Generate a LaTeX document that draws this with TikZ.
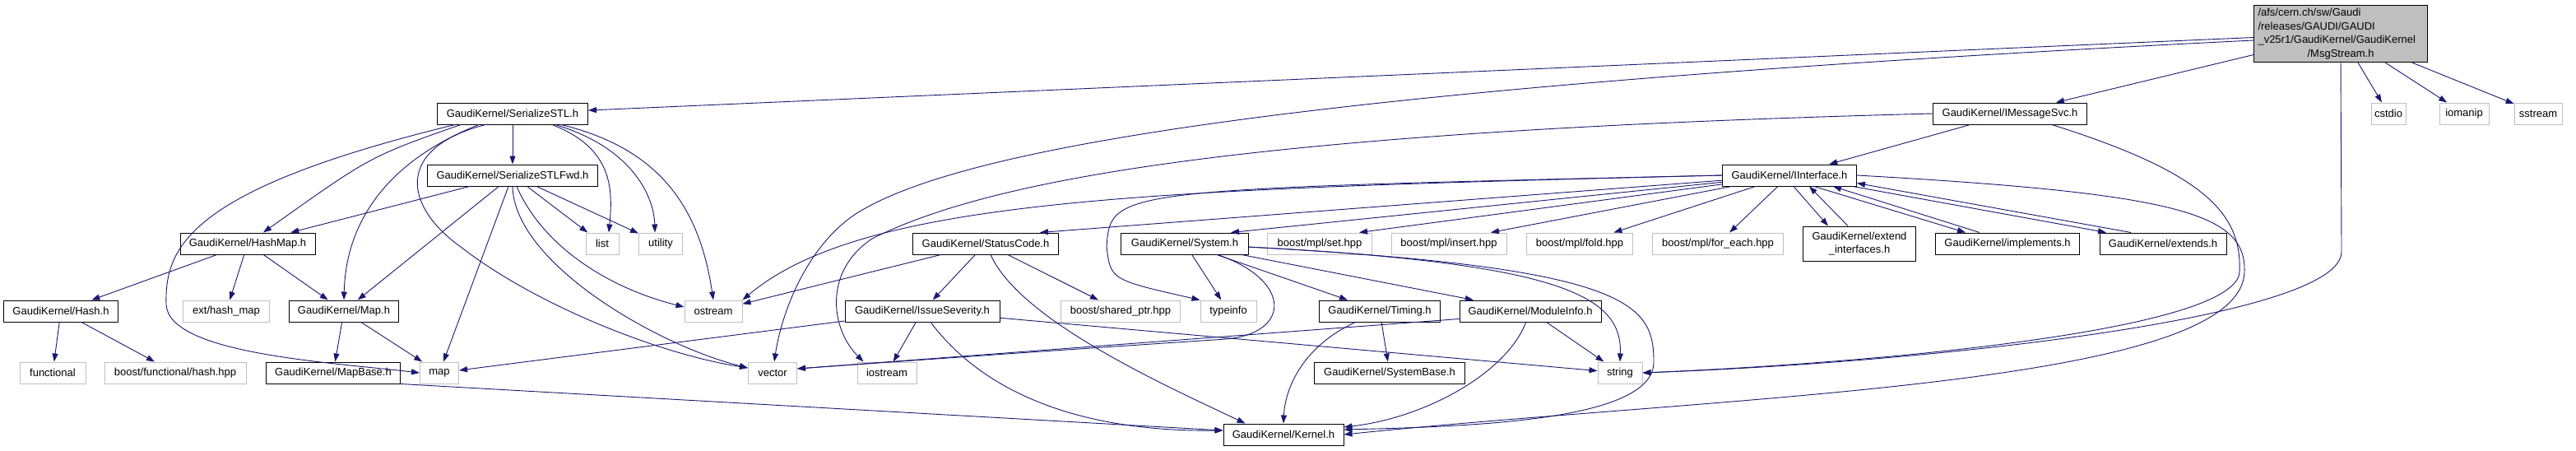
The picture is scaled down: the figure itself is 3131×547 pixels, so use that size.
\documentclass[tikz,border=0pt]{standalone}
\usepackage{fontspec}
\setmainfont{Liberation Sans}
\usetikzlibrary{arrows.meta}
\definecolor{edgeblue}{HTML}{191970}
\definecolor{extgray}{HTML}{BFBFBF}

\begin{document}
\begin{tikzpicture}[x=1pt,y=-1pt,
  every node/.style={font=\fontsize{13}{16.5}\selectfont, inner sep=0pt, minimum height=26pt},
  doc/.style={draw=black, line width=1pt, fill=white},
  sys/.style={draw=extgray, line width=1pt, fill=white},
  topfile/.style={draw=black, line width=1pt, fill=extgray},
  inc/.style={draw=edgeblue, line width=0.9pt, -{Triangle[length=10pt,width=7pt]}}]
\useasboundingbox (0,0) rectangle (3131,547);

% files
\node[topfile, text width=201pt, inner xsep=5pt, minimum height=69pt, align=left] (root) at (2845,41)
  {/afs/cern.ch/sw/Gaudi\\/releases/GAUDI/GAUDI\\\_v25r1/GaudiKernel/GaudiKernel\\\makebox[\linewidth]{/MsgStream.h}};
\node[sys, minimum width=42pt] (cstdio) at (2903,138) {cstdio};
\node[sys, minimum width=60pt] (iomanip) at (2995,138) {iomanip};
\node[sys, minimum width=58pt] (sstream) at (3085,138) {sstream};
\node[doc, minimum width=187pt] (imsg) at (2443,138) {GaudiKernel/IMessageSvc.h};
\node[doc, minimum width=183pt] (sstl) at (623,138) {GaudiKernel/SerializeSTL.h};
\node[doc, minimum width=207pt] (fwd) at (623,213) {GaudiKernel/SerializeSTLFwd.h};
\node[doc, minimum width=163pt] (iinterface) at (2175,213) {GaudiKernel/IInterface.h};
\node[doc, minimum width=164pt] (hashmap) at (301,296) {GaudiKernel/HashMap.h};
\node[sys, minimum width=40pt] (list) at (732,296) {list};
\node[sys, minimum width=53pt] (utility) at (803,296) {utility};
\node[doc, minimum width=177pt] (statuscode) at (1198,296) {GaudiKernel/StatusCode.h};
\node[doc, minimum width=155pt] (system) at (1440,296) {GaudiKernel/System.h};
\node[sys, minimum width=127pt] (mplset) at (1604,296) {boost/mpl/set.hpp};
\node[sys, minimum width=140pt] (mplinsert) at (1761,296) {boost/mpl/insert.hpp};
\node[sys, minimum width=129pt] (mplfold) at (1920,296) {boost/mpl/fold.hpp};
\node[sys, minimum width=159pt] (mplforeach) at (2088,296) {boost/mpl/for\_each.hpp};
\node[doc, minimum width=137pt, minimum height=42pt, align=center] (extendif) at (2260,296) {GaudiKernel/extend\\\_interfaces.h};
\node[doc, minimum width=175pt] (implements) at (2440,296) {GaudiKernel/implements.h};
\node[doc, minimum width=154pt] (extends) at (2629,296) {GaudiKernel/extends.h};
\node[doc, minimum width=139pt] (hash) at (74,378) {GaudiKernel/Hash.h};
\node[sys, minimum width=105pt] (exthash) at (275,378) {ext/hash\_map};
\node[doc, minimum width=133pt] (maph) at (418,378) {GaudiKernel/Map.h};
\node[sys, minimum width=70pt] (ostream) at (867,378) {ostream};
\node[doc, minimum width=188pt] (issue) at (1121,378) {GaudiKernel/IssueSeverity.h};
\node[sys, minimum width=145pt] (sharedptr) at (1362,378) {boost/shared\_ptr.hpp};
\node[sys, minimum width=68pt] (typeinfo) at (1493,378) {typeinfo};
\node[doc, minimum width=147pt] (timing) at (1677,378) {GaudiKernel/Timing.h};
\node[doc, minimum width=172pt] (moduleinfo) at (1860,378) {GaudiKernel/ModuleInfo.h};
\node[sys, minimum width=80pt] (functional) at (64,453) {functional};
\node[sys, minimum width=172pt] (bfhash) at (213,453) {boost/functional/hash.hpp};
\node[doc, minimum width=163pt] (mapbase) at (405,453) {GaudiKernel/MapBase.h};
\node[sys, minimum width=47pt] (map) at (534,453) {map};
\node[sys, minimum width=59pt] (vector) at (939,453) {vector};
\node[sys, minimum width=72pt] (iostream) at (1078,453) {iostream};
\node[doc, minimum width=183pt] (systembase) at (1689,453) {GaudiKernel/SystemBase.h};
\node[sys, minimum width=54pt] (string) at (1969,453) {string};
\node[doc, minimum width=146pt] (kernel) at (1560,528) {GaudiKernel/Kernel.h};

% MsgStream.h
\draw[inc] (root) -- (sstl);
\draw[inc] (root) -- (imsg);
\draw[inc] ([yshift=-8pt]root.west) .. controls (1500,110) and (1150,190) .. (1040,260) .. controls (980,300) and (950,380) .. (vector);
\draw[inc] (root) -- (cstdio);
\draw[inc] (root) -- (iomanip);
\draw[inc] (root) -- (sstream);
\draw[inc] (root.south) -- (2846,306) .. controls (2846,386) and (2350,440) .. (string.east);

% IMessageSvc.h
\draw[inc] (imsg) -- (iinterface);
\draw[inc] (imsg.west) .. controls (1500,160) and (1200,220) .. (1060,290) .. controls (1000,330) and (1010,400) .. ([xshift=8pt]iostream.north west);
\draw[inc] ([xshift=-43pt]imsg.south east) .. controls (2680,210) and (2725,260) .. (2722,330) .. controls (2720,400) and (2300,440) .. (string.east);

% IInterface.h
\draw[inc] (iinterface.west) .. controls (1400,230) and (1050,240) .. (ostream.north east);
\draw[inc] (iinterface) -- ([xshift=66pt]statuscode.north);
\draw[inc] (iinterface) -- ([xshift=56pt]system.north);
\draw[inc] (iinterface.west) .. controls (1350,230) .. (1345,300) .. controls (1350,340) .. (typeinfo.north west);
\draw[inc] (iinterface) -- ([xshift=48pt]mplset.north);
\draw[inc] (iinterface) -- ([xshift=51pt]mplinsert.north);
\draw[inc] (iinterface) -- (mplfold);
\draw[inc] (iinterface) -- (mplforeach);
\draw[inc] ([xshift=5pt]iinterface.south) -- ([xshift=-38pt]extendif.north);
\draw[inc] ([xshift=-14pt]extendif.north) -- ([xshift=24pt]iinterface.south);
\draw[inc] ([xshift=30pt]iinterface.south) -- ([xshift=-51pt]implements.north);
\draw[inc] ([xshift=-34pt]implements.north) -- ([xshift=53pt]iinterface.south);
\draw[inc] ([xshift=-5pt]iinterface.south east) -- ([xshift=-69pt]extends.north);
\draw[inc] ([xshift=-39pt]extends.north) -- ([yshift=4pt]iinterface.south east);
\draw[inc] (iinterface.east) .. controls (2650,235) and (2730,260) .. (2728,330) .. controls (2725,470) and (2100,480) .. (kernel.east);

% StatusCode.h, IssueSeverity.h
\draw[inc] (statuscode) -- (ostream);
\draw[inc] (statuscode) -- (issue);
\draw[inc] (statuscode) -- (sharedptr);
\draw[inc] (statuscode) .. controls (1240,390) and (1420,470) .. ([xshift=27pt]kernel.north west);
\draw[inc] (issue) -- (map);
\draw[inc] (issue) -- (iostream);
\draw[inc] (issue) .. controls (1190,470) and (1300,525) .. ([yshift=5pt]kernel.west);
\draw[inc] (issue) -- (string);

% System.h, Timing.h, ModuleInfo.h
\draw[inc] (system) -- (typeinfo);
\draw[inc] (system) -- (timing);
\draw[inc] (system) -- (moduleinfo);
\draw[inc] (system) .. controls (1900,320) and (1972,360) .. (string.north);
\draw[inc] (system) .. controls (1985,325) and (2010,370) .. (2010,440) .. controls (2010,510) and (1800,518) .. ([yshift=6pt]kernel.east);
\draw[inc] (system) .. controls (1570,340) and (1570,405) .. (1490,412) .. controls (1250,428) .. ([yshift=5pt]vector.east);
\draw[inc] (timing) -- (systembase);
\draw[inc] (timing) .. controls (1585,420) and (1562,470) .. (kernel.north);
\draw[inc] ([yshift=4pt]moduleinfo.south west) -- ([yshift=5pt]vector.east);
\draw[inc] (moduleinfo) -- (string);
\draw[inc] (moduleinfo) .. controls (1830,455) and (1730,508) .. ([yshift=9pt]kernel.east);

% HashMap.h, Hash.h, Map.h
\draw[inc] (hashmap) -- (hash);
\draw[inc] (hashmap) -- (exthash);
\draw[inc] (hashmap) -- (maph);
\draw[inc] (hash) -- (functional);
\draw[inc] (hash) -- (bfhash);
\draw[inc] (maph) -- (mapbase);
\draw[inc] (maph) -- (map);
\draw[inc] (mapbase.south east) -- ([yshift=5pt]kernel.west);

% SerializeSTL.h
\draw[inc] (sstl) -- (fwd);
\draw[inc] ([xshift=-63pt]sstl.south) .. controls (450,190) .. (hashmap);
\draw[inc] ([xshift=-70pt]sstl.south) .. controls (230,230) and (200,300) .. (202,370) .. controls (205,430) and (400,440) .. (map.west);
\draw[inc] ([xshift=-41pt]sstl.south) .. controls (460,200) and (420,280) .. (maph.north);
\draw[inc] ([xshift=-33pt]sstl.south) .. controls (480,180) and (490,250) .. (560,300) .. controls (650,370) and (800,430) .. ([yshift=6pt]vector.west);
\draw[inc] ([xshift=48pt]sstl.south) .. controls (745,180) and (745,230) .. ([xshift=8pt]list.north);
\draw[inc] ([xshift=52pt]sstl.south) .. controls (770,180) and (795,240) .. ([xshift=-7pt]utility.north);
\draw[inc] ([xshift=59pt]sstl.south) .. controls (800,180) and (850,250) .. (ostream.north);

% SerializeSTLFwd.h
\draw[inc] (fwd) -- (hashmap);
\draw[inc] (fwd) -- (maph);
\draw[inc] (fwd) -- (map);
\draw[inc] (fwd) -- (list);
\draw[inc] (fwd) -- (utility);
\draw[inc] (fwd.south) .. controls (625,320) and (800,420) .. ([yshift=6pt]vector.west);
\draw[inc] ([xshift=5pt]fwd.south) .. controls (660,300) and (740,350) .. ([yshift=5pt]ostream.west);
\end{tikzpicture}
\end{document}
